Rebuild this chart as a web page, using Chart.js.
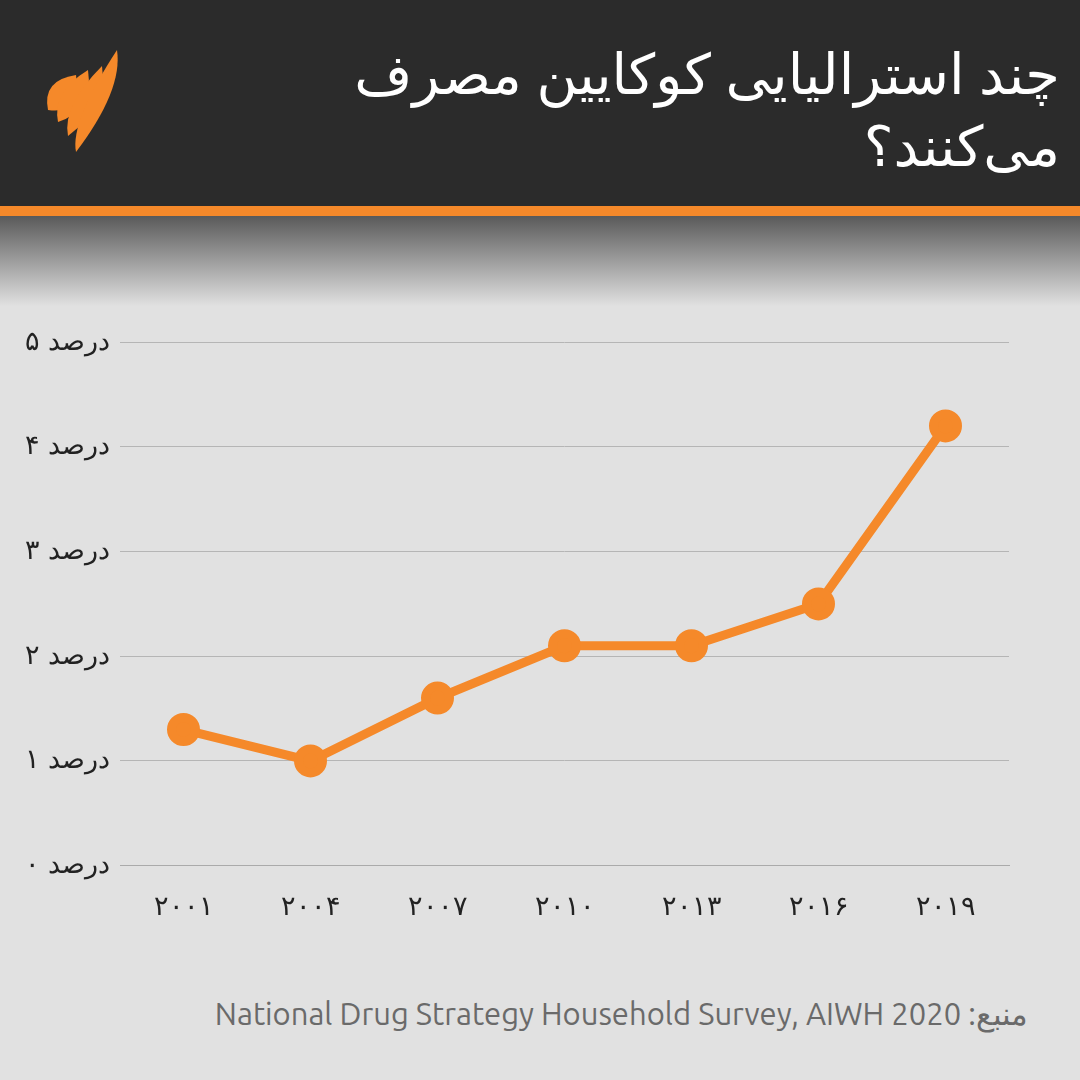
<!DOCTYPE html>
<html><head><meta charset="utf-8">
<script src="https://cdn.jsdelivr.net/npm/chart.js@4"></script>
<style>
body{margin:0;width:1080px;height:1080px;overflow:hidden;background:#e1e1e1;font-family:'Noto Sans','DejaVu Sans',sans-serif;position:relative}
#head{position:absolute;left:0;top:0;width:1080px;height:206px;background:#2b2b2b}
#bar{position:absolute;left:0;top:206px;width:1080px;height:10px;background:#f5892a}
#fade{position:absolute;left:0;top:216px;width:1080px;height:90px;background:linear-gradient(#5a5a5a,#e1e1e1)}
#title{position:absolute;right:20px;top:36px;width:820px;text-align:right;direction:rtl;color:#fff;font-size:56px;line-height:72px}
#logo{position:absolute;left:40px;top:40px}
#src{position:absolute;right:52px;top:996px;color:#6a6a6a;font-size:31px;direction:rtl;font-family:Ubuntu,'Noto Sans',sans-serif}
#wrap{position:absolute;left:0;top:316px;width:1030px;height:626px}
</style></head><body>
<div id="head"></div><div id="bar"></div><div id="fade"></div>
<canvas id="logo" width="90" height="120"></canvas>
<div id="title">چند استرالیایی کوکایین مصرف می‌کنند؟</div>
<div id="wrap"><canvas id="c"></canvas></div>
<div id="src">منبع: <span dir="ltr">National Drug Strategy Household Survey, AIWH 2020</span></div>
<script>
const years = ['۲۰۰۱', '۲۰۰۴', '۲۰۰۷', '۲۰۱۰', '۲۰۱۳', '۲۰۱۶', '۲۰۱۹'];
const usage = [1.3, 1.0, 1.6, 2.1, 2.1, 2.5, 4.2];
const yTickLabels = ['درصد ۰', 'درصد ۱', 'درصد ۲', 'درصد ۳', 'درصد ۴', 'درصد ۵'];

// logo: a few orange blades
const lg = document.getElementById('logo').getContext('2d');
lg.fillStyle = '#f5892a';
[[8,70,36,35],[18,82,48,30],[28,96,62,26],[36,112,77,10]].forEach(b => {
  lg.beginPath();
  lg.moveTo(b[0], b[1]);
  lg.quadraticCurveTo(b[0]-6, b[1]-30, b[2], b[3]);
  lg.quadraticCurveTo(b[2]+6, b[3]+40, b[0], b[1]);
  lg.fill();
});

new Chart(document.getElementById('c'), {
  type: 'line',
  data: {
    labels: years,
    datasets: [{
      data: usage,
      borderColor: '#f5892a',
      backgroundColor: '#f5892a',
      borderWidth: 9,
      pointRadius: 12,
      pointHoverRadius: 12,
      tension: 0
    }]
  },
  options: {
    responsive: true,
    maintainAspectRatio: false,
    animation: false,
    layout: { padding: { top: 10, right: 0, left: 0 } },
    plugins: { legend: { display: false }, tooltip: { enabled: false } },
    scales: {
      x: {
        offset: true,
        grid: { display: false },
        border: { color: '#aaa' },
        ticks: { color: '#222', font: { size: 27 }, padding: 18 }
      },
      y: {
        min: 0, max: 5,
        afterFit: s => { s.width = 120; },
        grid: { color: '#b5b5b5', drawTicks: false },
        border: { display: false },
        ticks: { stepSize: 1, color: '#222', font: { size: 27 }, padding: 10,
          callback: v => yTickLabels[v] }
      }
    }
  }
});
</script>
</body></html>
